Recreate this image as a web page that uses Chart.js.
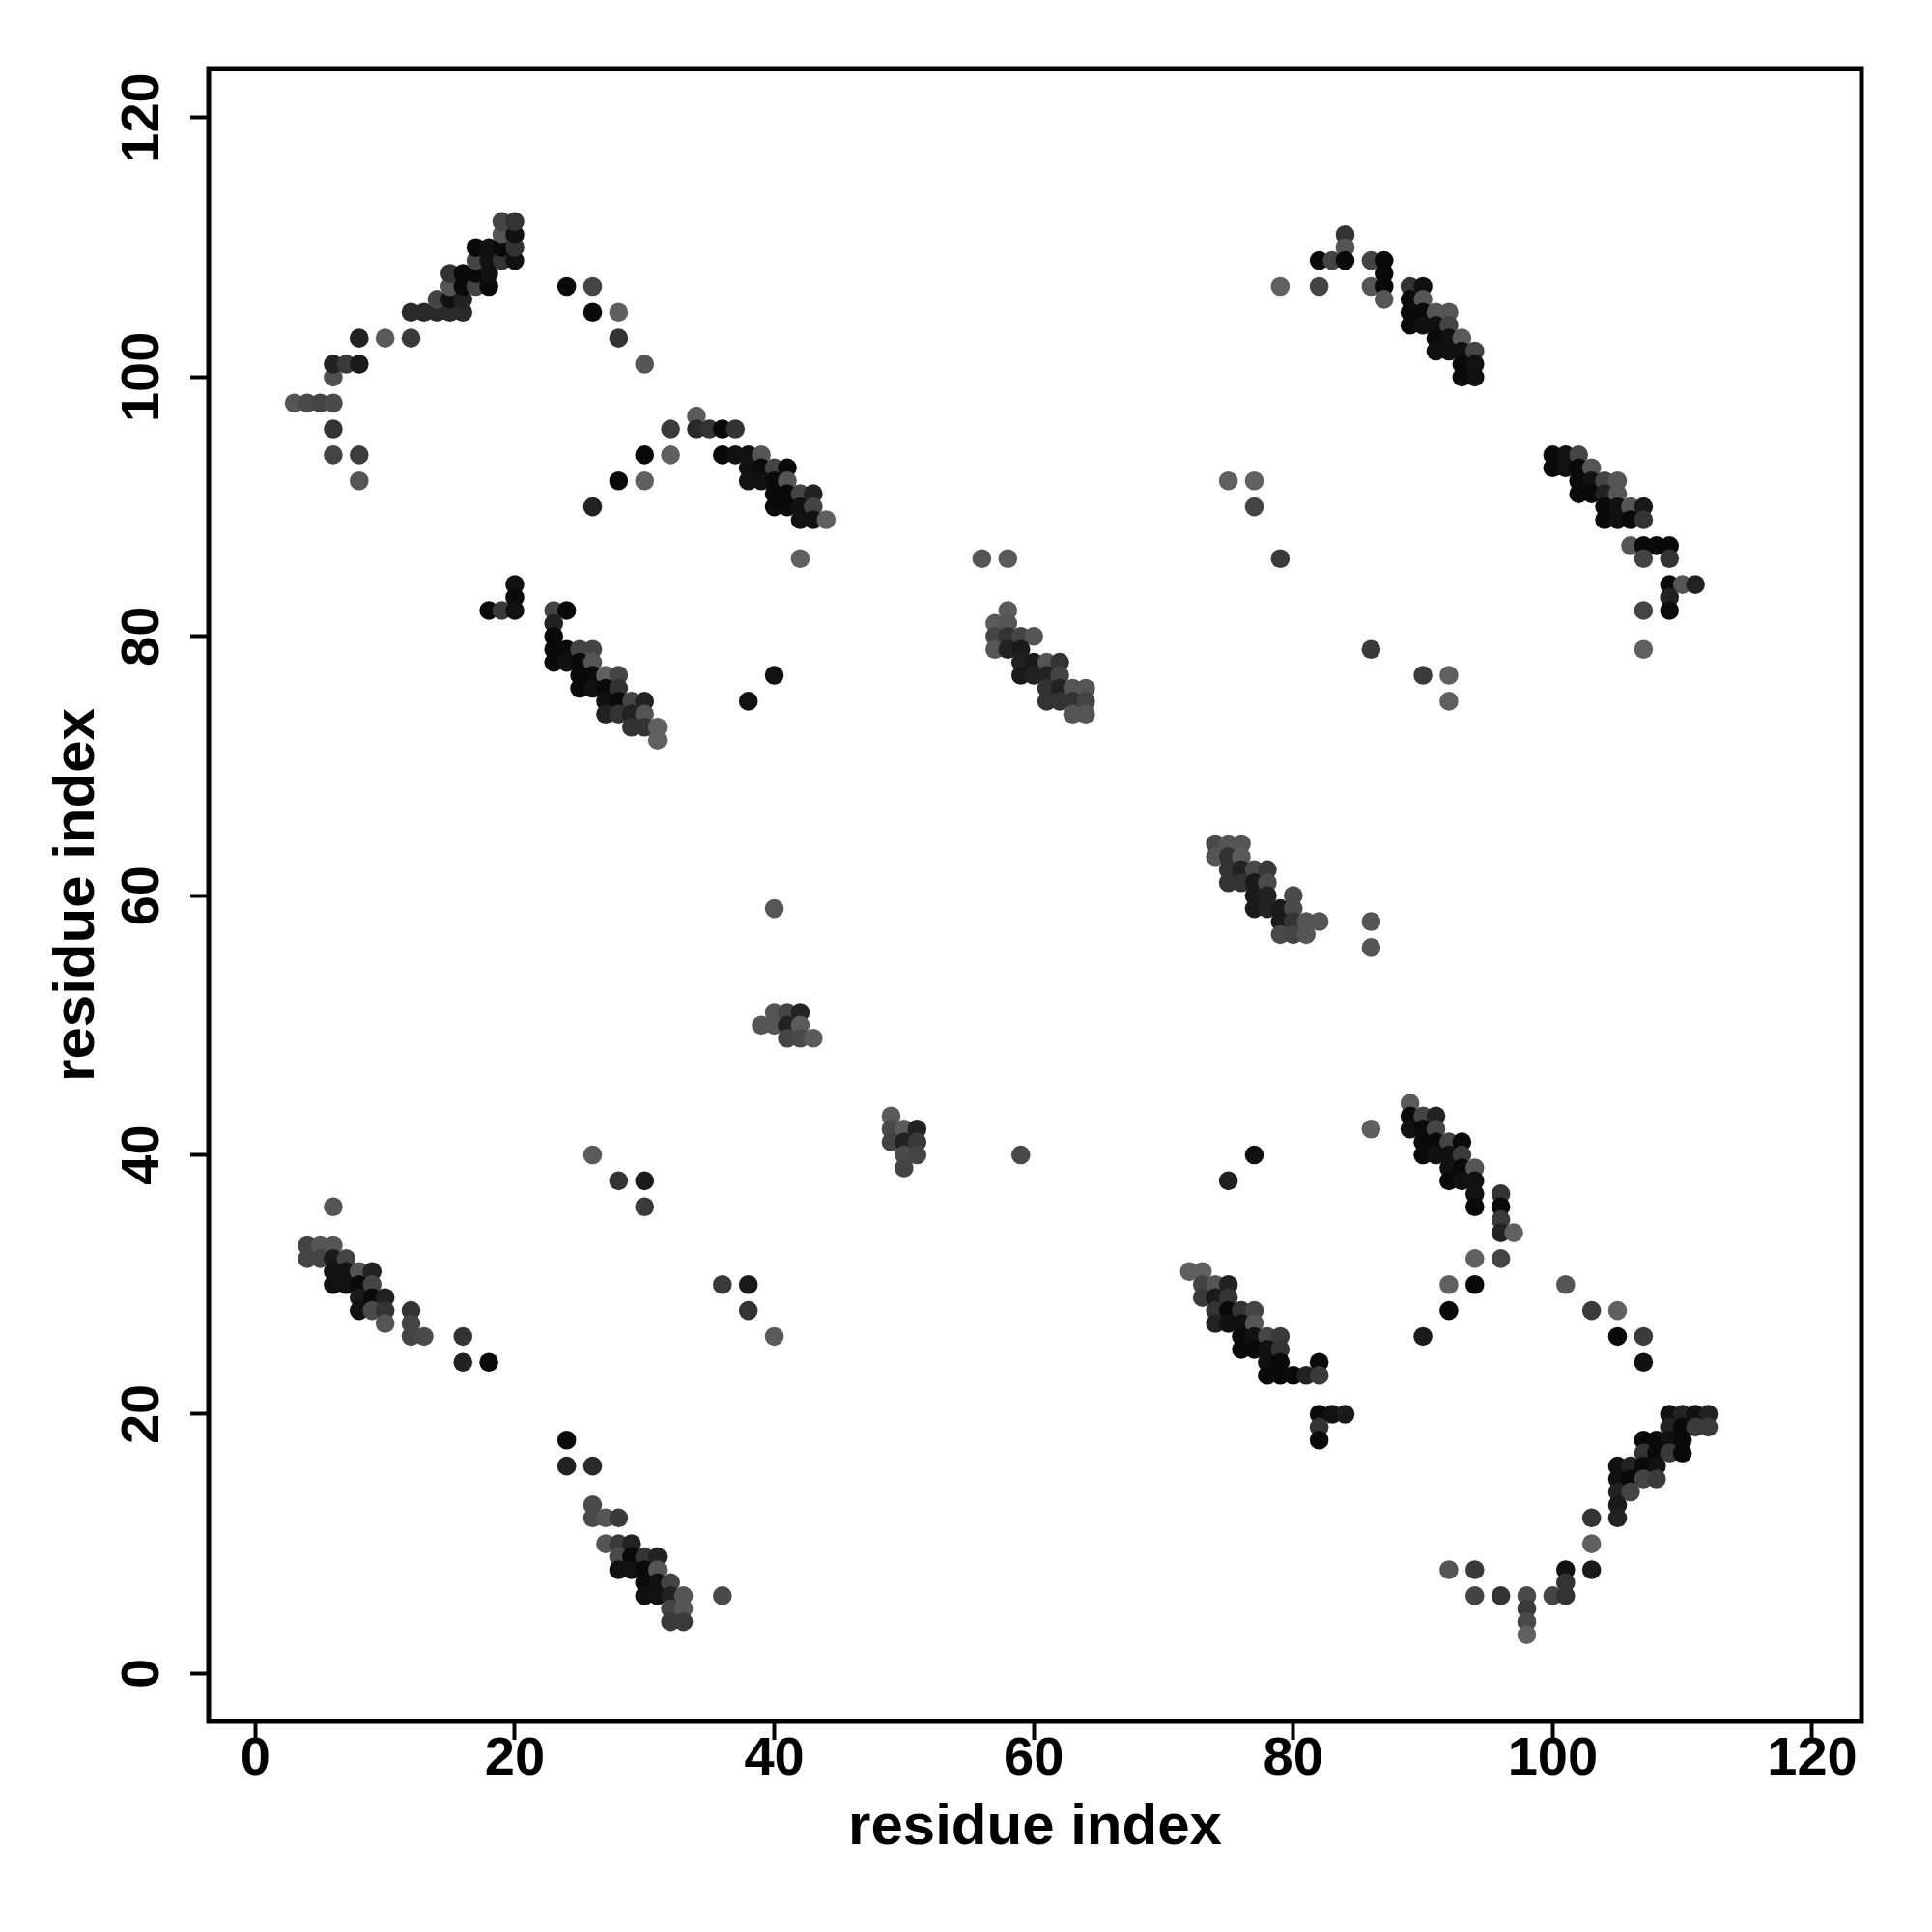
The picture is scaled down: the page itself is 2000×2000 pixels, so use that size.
<!DOCTYPE html>
<html><head><meta charset="utf-8">
<script src="https://cdn.jsdelivr.net/npm/chart.js@4.4.0/dist/chart.umd.min.js"></script>
<style>html,body{margin:0;padding:0;background:#fff}#wrap{width:2000px;height:2000px;position:relative}</style>
</head><body><div id="wrap"><canvas id="c"></canvas></div>
<script>
// residue i (x), residue j (y), grey level (0 = black .. 255 = white)
const residueI = [
 3,4,5,6, 6, 6,7,8, 8,10,12, 6, 6,8, 8, 12,13,14,15,16, 14,15,16, 15,16,17,18, 15,16,17,18, 17,18,19,20, 17,18,19,20, 19,20, 19,20,
 24,26, 26,28, 28, 30, 34, 32,34,35,36,37, 30,32,36,37,38,39, 38,39,40,41, 28,30,38,39,40,41, 40,41,42,43, 26,40,41,42,43, 42,43,44, 42,
 20,20, 18,19,20,23,24, 23,23, 23,24,25,26, 23,24,25,26, 25,26,27,28, 25,26,27,28, 27,28,29,30, 27,28,29,30, 29,30,31, 31, 38,40,
 56,58, 58, 57,58, 57,58,59,60, 57,58,59, 59,60,61,62, 59,60,61,62, 61,62,63,64, 61,62,63,64, 63,64,
 84,84, 82,83,84,86,87, 87, 79,82,86,87,89,90, 87,89,90, 89,90,91,92, 89,90,91,92, 91,92,93, 91,92,93,94, 93,94, 93,94,
 100,101,102, 100,101,102,103, 102,103,104,105, 102,103,104,105, 104,105,106,107, 104,105,106,107, 106,107,108,109, 107,109, 109,110,111, 109, 107,109, 107,
 75,77,77,79,86,90,92,92,
 74,75,76, 74,75,76, 75,76,77,78, 75,76,77,78, 77,78,80, 77,78,79,80, 79,80,81,82, 79,80,81, 86,86,
 40, 40,41,42, 39,40,41,42, 41,42,43, 49, 49,50,51, 49,50,51, 50,51, 50, 26,59, 28,30, 30, 36,38, 38, 40,
 6, 4,5,6, 4,5,6,7, 6,7,8,9, 6,7,8,9, 8,9,10, 8,9,10,12, 10,12, 12,13,16, 16,18,
 24, 24,26, 26, 26,27,28, 27,28,29, 28,29,30,31, 28,29,30,31, 30,31,32, 30,31,32,33,36, 32,33, 32,33,
 89, 89,90,91, 89,90,91, 90,91,92,93, 90,91,92,93, 92,93,94, 92,93,94, 94,96, 94,96, 96, 96,97, 86,77,75, 94,96, 92,94,101, 92,103,105, 90,105,107, 107,
 72,73, 73,74,75, 73,74,75, 74,75,76,77, 74,75,76,77, 76,77,78,79, 76,77,78,79, 78,79,82, 78,79,80,81,82, 82,83,84, 82, 82,
 109,110,111,112, 109,110,111,112, 107,108,109,110, 107,108,109,110, 105,106,107,108, 105,106,107,108, 105,106, 105, 103,105, 103, 92,94,101,103, 101, 94,96,98,100,101, 98, 98, 98
];
const residueJ = [
 98,98,98,98, 100, 101,101,101, 103,103,103, 96, 94,94, 92, 105,105,105,105,105, 106,106,106, 107,107,107,107, 108,108,108,108, 109,109,109,109, 110,110,110,110, 111,111, 112,112,
 107,107, 105,105, 103, 101, 97, 96,96,96,96,96, 94,94,94,94,94,94, 93,93,93,93, 92,92,92,92,92,92, 91,91,91,91, 90,90,90,90,90, 89,89,89, 86,
 84,83, 82,82,82,82,82, 81,80, 79,79,79,79, 78,78,78,78, 77,77,77,77, 76,76,76,76, 75,75,75,75, 74,74,74,74, 73,73,73, 72, 75,77,
 86,86, 82, 81,81, 80,80,80,80, 79,79,79, 78,78,78,78, 77,77,77,77, 76,76,76,76, 75,75,75,75, 74,74,
 111,110, 109,109,109,109,109, 108, 107,107,107,107,107,107, 106,106,106, 105,105,105,105, 104,104,104,104, 103,103,103, 102,102,102,102, 101,101, 100,100,
 94,94,94, 93,93,93,93, 92,92,92,92, 91,91,91,91, 90,90,90,90, 89,89,89,89, 87,87,87,87, 86,86, 84,84,84, 83, 82,82, 79,
 92,92,90,86,79,77,77,75,
 64,64,64, 63,63,63, 62,62,62,62, 61,61,61,61, 60,60,60, 59,59,59,59, 58,58,58,58, 57,57,57, 58,56,
 59, 51,51,51, 50,50,50,50, 49,49,49, 43, 42,42,42, 41,41,41, 40,40, 39, 40,40, 38,38, 36, 30,30, 28, 26,
 36, 33,33,33, 32,32,32,32, 31,31,31,31, 30,30,30,30, 29,29,29, 28,28,28,28, 27,27, 26,26,26, 24,24,
 18, 16,16, 13, 12,12,12, 10,10,10, 9,9,9,9, 8,8,8,8, 7,7,7, 6,6,6,6,6, 5,5, 4,4,
 44, 43,43,43, 42,42,42, 41,41,41,41, 40,40,40,40, 39,39,39, 38,38,38, 37,37, 36,36, 35, 34,34, 42,40,38, 32,32, 30,30,30, 28,28,28, 26,26,26, 24,
 31,31, 30,30,30, 29,29,29, 28,28,28,28, 27,27,27,27, 26,26,26,26, 25,25,25,25, 24,24,24, 23,23,23,23,23, 20,20,20, 19, 18,
 20,20,20,20, 19,19,19,19, 18,18,18,18, 17,17,17,17, 16,16,16,16, 15,15,15,15, 14,14, 13, 12,12, 10, 8,8,8,8, 7, 6,6,6,6,6, 5, 4, 3
];
const greyLevel = [
 85,74,68,74, 80, 34,58,26, 34,90,58, 51, 68,61, 85, 42,42,42,42,42, 68,17,34, 85,10,68,10, 51,10,10,17, 68,17,51,17, 10,17,10,51, 85,17, 68,51,
 10,68, 10,96, 51, 85, 90, 58,42,51,10,51, 10,96,10,17,17,85, 17,10,68,10, 10,96,17,17,10,85, 10,10,68,34, 34,10,10,17,68, 17,17,96, 96,
 17,10, 10,58,17,68,10, 34,10, 10,10,68,68, 10,17,10,85, 10,10,96,68, 10,17,10,51, 17,10,68,34, 34,51,34,85, 51,51,96, 96, 17,17,
 85,90, 90, 90,85, 68,51,68,85, 85,34,26, 34,26,85,51, 26,34,34,68, 51,34,85,85, 51,51,51,68, 85,85,
 51,85, 10,68,10,68,10, 10, 96,68,85,10,51,17, 85,10,85, 10,10,85,85, 10,17,17,68, 10,17,90, 17,17,17,68, 10,17, 10,17,
 10,17,68, 10,17,10,85, 10,17,68,85, 10,10,34,85, 10,17,85,26, 10,17,10,51, 85,10,10,10, 68,51, 10,85,34, 34, 68,10, 96,
 96,96,68,58,58,58,96,96,
 74,85,85, 85,51,90, 51,34,74,58, 51,51,26,74, 26,34,74, 26,34,26,74, 26,51,85,85, 74,68,85, 85,85,
 85, 85,68,34, 85,85,34,90, 68,74,90, 90, 74,90,34, 68,34,58, 74,68, 68, 90,74, 51,26, 58, 58,26, 51, 90,
 85, 68,85,85, 68,68,26,68, 17,17,85,34, 17,17,10,68, 26,10,34, 17,74,51,51, 85,68, 68,74,51, 34,10,
 10, 34,42, 74, 74,85,58, 85,58,34, 74,10,51,34, 17,17,10,85, 10,17,68, 17,17,34,85,74, 68,85, 58,58,
 90, 10,68,34, 17,10,68, 10,10,68,10, 10,17,17,58, 17,10,85, 10,17,17, 17,51, 10,10, 58, 34,96, 96,17,34, 96,68, 96,10,85, 10,58,96, 26,10,58, 17,
 96,96, 68,85,34, 58,26,51, 51,10,51,68, 34,17,17,85, 10,17,68,58, 10,10,17,51, 17,10,10, 10,10,10,34,58, 10,17,26, 51, 10,
 17,34,17,34, 34,10,58,58, 10,10,17,10, 51,10,58,10, 17,34,10,17, 17,10,68,58, 34,68, 26, 51,34, 96, 85,58,17,26, 51, 68,51,74,68,51, 58, 74, 96
];
const xTicks = [0, 20, 40, 60, 80, 100, 120];
const yTicks = [0, 20, 40, 60, 80, 100, 120];
const xTitle = 'residue index';
const yTitle = 'residue index';

const FONT = '"Liberation Sans", Arial, Helvetica, sans-serif';
const points = residueI.map((x, k) => ({x: x, y: residueJ[k]}));
const colors = greyLevel.map(g => `rgb(${g},${g},${g})`);

const frame = {
  id: 'frame',
  afterDraw(chart) {
    const {ctx, chartArea: a, scales} = chart;
    ctx.save();
    ctx.strokeStyle = '#000';
    ctx.lineWidth = 5;
    ctx.strokeRect(a.left, a.top, a.right - a.left, a.bottom - a.top);
    // rotated y tick labels (R style)
    ctx.fillStyle = '#000';
    ctx.font = `bold 56px ${FONT}`;
    ctx.textAlign = 'center';
    ctx.textBaseline = 'middle';
    yTicks.forEach(v => {
      const py = scales.y.getPixelForValue(v);
      ctx.save();
      ctx.translate(149, py);
      ctx.rotate(-Math.PI / 2);
      ctx.fillText(String(v), 0, 0);
      ctx.restore();
    });
    ctx.restore();
  }
};

new Chart(document.getElementById('c'), {
  type: 'scatter',
  data: {datasets: [{
    data: points,
    backgroundColor: colors,
    borderWidth: 0,
    pointRadius: 9.8,
    pointHoverRadius: 9.8
  }]},
  options: {
    responsive: true, maintainAspectRatio: false, animation: false,
    layout: {padding: {left: 0, top: 71, right: 73, bottom: 0}},
    plugins: {legend: {display: false}, tooltip: {enabled: false}},
    scales: {
      x: {
        type: 'linear', position: 'bottom', min: -3.6, max: 123.8,
        afterBuildTicks: s => { s.ticks = xTicks.map(v => ({value: v})); },
        afterFit: s => { s.height = 218; },
        grid: {drawOnChartArea: false, drawTicks: true, tickLength: 19, tickWidth: 4, tickColor: '#000'},
        border: {display: false},
        ticks: {color: '#000', font: {family: FONT, weight: 'bold', size: 56, lineHeight: 1}, padding: -7, maxRotation: 0, autoSkip: false},
        title: {display: true, text: xTitle, color: '#000', font: {family: FONT, weight: 'bold', size: 60, lineHeight: 1.2}, padding: {top: 0, bottom: 72}}
      },
      y: {
        type: 'linear', position: 'left', min: -3.7, max: 123.8,
        afterBuildTicks: s => { s.ticks = yTicks.map(v => ({value: v})); },
        afterFit: s => { s.width = 216; },
        grid: {drawOnChartArea: false, drawTicks: true, tickLength: 19, tickWidth: 4, tickColor: '#000'},
        border: {display: false},
        ticks: {display: false},
        title: {display: true, text: yTitle, color: '#000', font: {family: FONT, weight: 'bold', size: 60, lineHeight: 1.2}, padding: {top: 44, bottom: 0}}
      }
    }
  },
  plugins: [frame]
});
</script>
</body></html>
